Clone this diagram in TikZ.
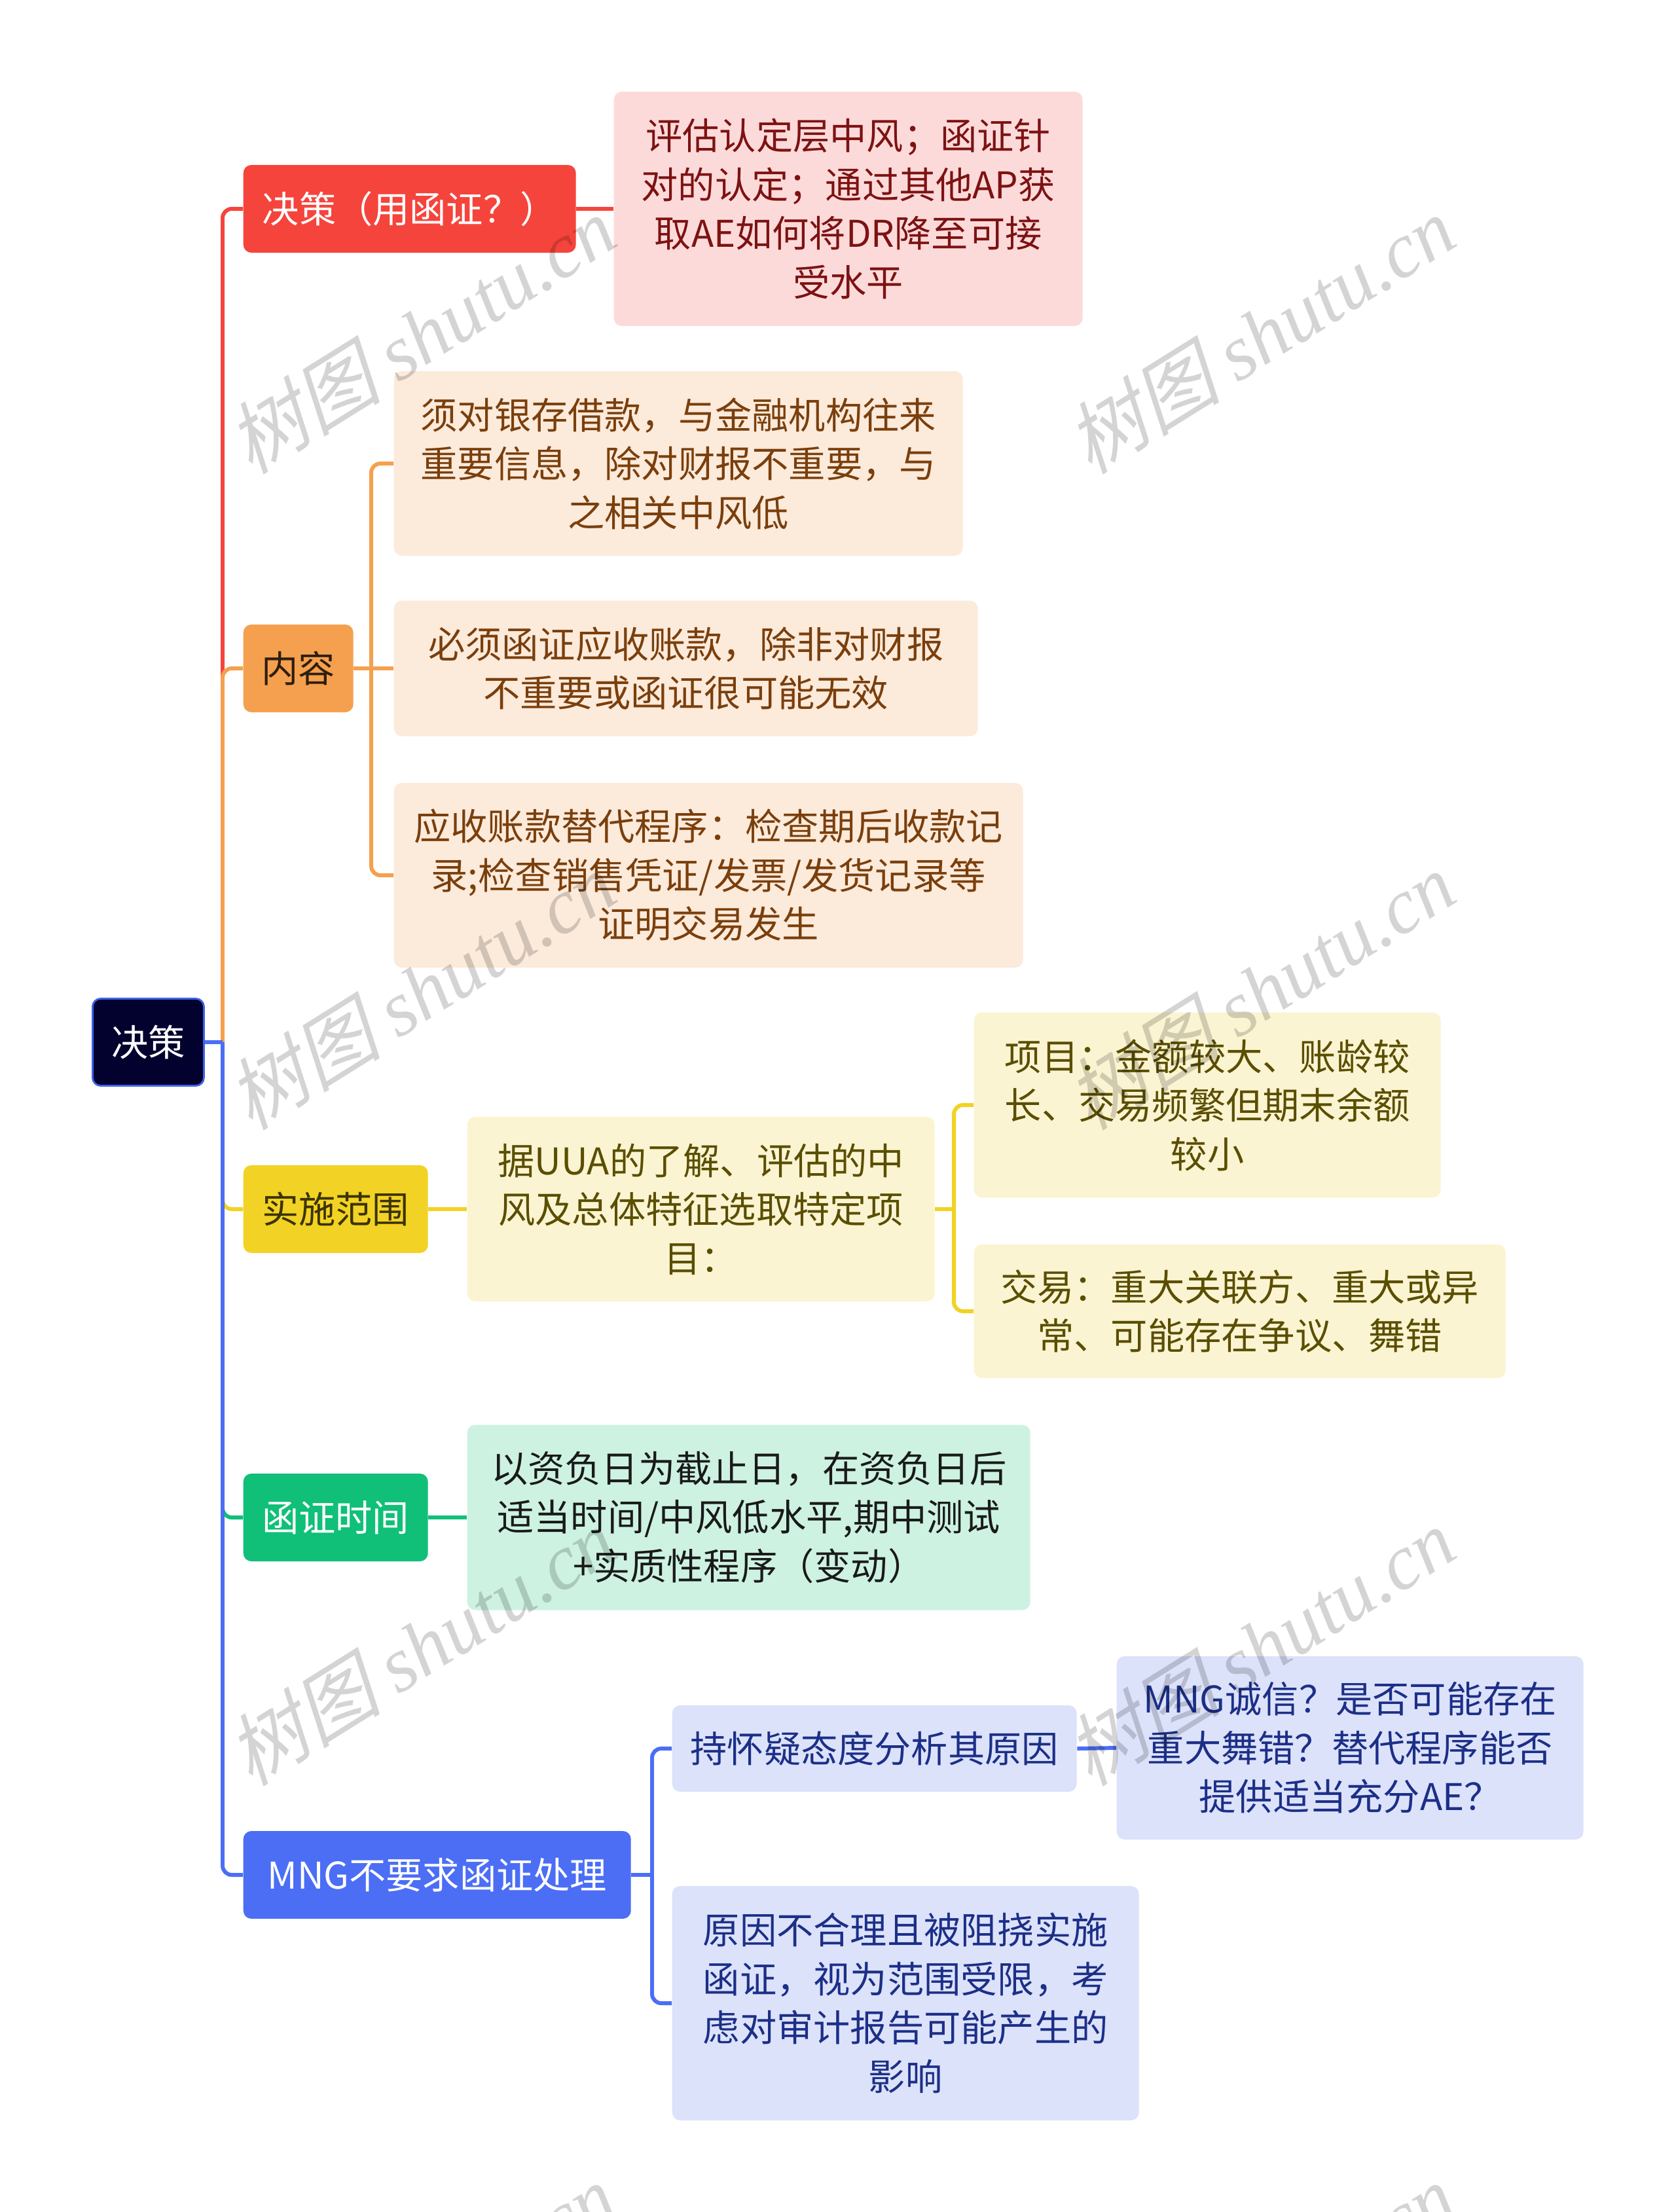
\documentclass[tikz,border=0pt]{standalone}
\usepackage{fontspec}
\setmainfont{Noto Sans CJK SC}
\newfontfamily\wmcjk{Noto Sans CJK SC}[FakeSlant=0.25]
\newfontfamily\wmlatin{Liberation Serif}
\usepackage{tikz}
\definecolor{rootfill}{HTML}{03022F}
\definecolor{rootedge}{HTML}{3F62E8}
\definecolor{redmain}{HTML}{F5443C}
\definecolor{redsub}{HTML}{FDDADA}
\definecolor{redtext}{HTML}{7D1212}
\definecolor{orgmain}{HTML}{F5A04E}
\definecolor{orgsub}{HTML}{FCEADB}
\definecolor{orgtext}{HTML}{7A3F0C}
\definecolor{orgdark}{HTML}{2D1E0E}
\definecolor{ylwmain}{HTML}{F2D224}
\definecolor{ylwsub}{HTML}{FBF4D2}
\definecolor{ylwtext}{HTML}{5A4E00}
\definecolor{ylwdark}{HTML}{3B3300}
\definecolor{grnmain}{HTML}{10BF78}
\definecolor{grnsub}{HTML}{CDF2E2}
\definecolor{grntext}{HTML}{1A1A1A}
\definecolor{blumain}{HTML}{4B6EF5}
\definecolor{blusub}{HTML}{DCE2FA}
\definecolor{blutext}{HTML}{1C2F87}
\tikzset{
  box/.style   = {rounded corners=3.5pt, inner sep=0pt, align=center, anchor=west,
                  font=\fontsize{16}{21.2}\selectfont},
  topbox/.style = {box, minimum height=1.34cm, text=white},
  link/.style  = {line width=1.7pt, rounded corners=4pt},
  wmark/.style = {font=\fontsize{34}{34}\selectfont, text=black, opacity=0.17, rotate=32}
}
\begin{document}
\begin{tikzpicture}
  \clip (0,0) rectangle (25.60,-33.79);
  \fill[white] (0,0) rectangle (25.60,-33.79);

  \node[box, fill=rootfill, draw=rootedge, line width=0.8pt, text=white,
        minimum width=1.70cm, minimum height=1.33cm] (root) at (1.40,-15.92) {决策};

  % main branches
  \node[topbox, fill=redmain, minimum width=5.08cm] (red) at (3.71,-3.19) {决策（用函证？）};
  \node[topbox, fill=orgmain, text=orgdark, minimum width=1.68cm] (org) at (3.71,-10.21) {内容};
  \node[topbox, fill=ylwmain, text=ylwdark, minimum width=2.82cm] (ylw) at (3.71,-18.47) {实施范围};
  \node[topbox, fill=grnmain, minimum width=2.82cm] (grn) at (3.71,-23.18) {函证时间};
  \node[topbox, fill=blumain, minimum width=5.92cm] (blu) at (3.71,-28.64) {MNG不要求函证处理};

  % sub topics
  \node[box, fill=redsub, text=redtext, minimum width=7.16cm, minimum height=3.58cm] (redsub) at (9.37,-3.19)
    {评估认定层中风；函证针\\对的认定；通过其他AP获\\取AE如何将DR降至可接\\受水平};
  \node[box, fill=orgsub, text=orgtext, minimum width=8.69cm, minimum height=2.82cm] (orgA) at (6.01,-7.08)
    {须对银存借款，与金融机构往来\\重要信息，除对财报不重要，与\\之相关中风低};
  \node[box, fill=orgsub, text=orgtext, minimum width=8.92cm, minimum height=2.07cm] (orgB) at (6.01,-10.21)
    {必须函证应收账款，除非对财报\\不重要或函证很可能无效};
  \node[box, fill=orgsub, text=orgtext, minimum width=9.61cm, minimum height=2.82cm] (orgC) at (6.01,-13.37)
    {应收账款替代程序：检查期后收款记\\录;检查销售凭证/发票/发货记录等\\证明交易发生};
  \node[box, fill=ylwsub, text=ylwtext, minimum width=7.14cm, minimum height=2.82cm] (ylwsub) at (7.13,-18.47)
    {据UUA的了解、评估的中\\风及总体特征选取特定项\\目：};
  \node[box, fill=ylwsub, text=ylwtext, minimum width=7.13cm, minimum height=2.83cm] (ylwA) at (14.87,-16.88)
    {项目：金额较大、账龄较\\长、交易频繁但期末余额\\较小};
  \node[box, fill=ylwsub, text=ylwtext, minimum width=8.12cm, minimum height=2.04cm] (ylwB) at (14.87,-20.03)
    {交易：重大关联方、重大或异\\常、可能存在争议、舞错};
  \node[box, fill=grnsub, text=grntext, minimum width=8.60cm, minimum height=2.83cm] (grnsub) at (7.13,-23.18)
    {以资负日为截止日，在资负日后\\适当时间/中风低水平,期中测试\\+实质性程序（变动）};
  \node[box, fill=blusub, text=blutext, minimum width=6.18cm, minimum height=1.32cm] (bluA) at (10.26,-26.71)
    {持怀疑态度分析其原因};
  \node[box, fill=blusub, text=blutext, minimum width=7.13cm, minimum height=2.80cm] (bluAA) at (17.05,-26.70)
    {MNG诚信？是否可能存在\\重大舞错？替代程序能否\\提供适当充分AE？};
  \node[box, fill=blusub, text=blutext, minimum width=7.13cm, minimum height=3.58cm] (bluB) at (10.26,-30.60)
    {原因不合理且被阻挠实施\\函证，视为范围受限，考\\虑对审计报告可能产生的\\影响};

  % connectors
  \coordinate (trunk) at (3.40,-15.92);
  \coordinate (orgfork) at (5.67,-10.21);
  \coordinate (ylwfork) at (14.57,-18.47);
  \coordinate (blufork) at (9.96,-28.64);

  \draw[link, redmain] (trunk) |- (red.west);
  \draw[link, redmain] (red.east) -- (redsub.west);

  \draw[link, orgmain] (trunk) |- (org.west);
  \draw[link, orgmain] (org.east) -- (orgfork);
  \draw[link, orgmain] (orgfork) |- (orgA.west);
  \draw[link, orgmain] (orgfork) -- (orgB.west);
  \draw[link, orgmain] (orgfork) |- (orgC.west);

  \draw[link, ylwmain] (trunk) |- (ylw.west);
  \draw[link, ylwmain] (ylw.east) -- (ylwsub.west);
  \draw[link, ylwmain] (ylwsub.east) -- (ylwfork);
  \draw[link, ylwmain] (ylwfork) |- (ylwA.west);
  \draw[link, ylwmain] (ylwfork) |- (ylwB.west);

  \draw[link, grnmain] (trunk) |- (grn.west);
  \draw[link, grnmain] (grn.east) -- (grnsub.west);

  \draw[link, blumain] (trunk) |- (blu.west);
  \draw[link, blumain] (root.east) -- (trunk);
  \draw[link, blumain] (blu.east) -- (blufork);
  \draw[link, blumain] (blufork) |- (bluA.west);
  \draw[link, blumain] (blufork) |- (bluB.west);
  \draw[link, blumain] (bluA.east) -- (bluAA.west);

  % watermarks
  \foreach \wx/\wy [count=\i] in {6.42/-5.11, 19.24/-5.11, 6.42/-15.13, 19.24/-15.13,
                                   6.42/-25.15, 19.24/-25.15, 6.42/-35.17, 19.24/-35.17}
    \node[wmark] (wm\i) at (\wx,\wy) {{\wmcjk 树图} {\wmlatin\itshape shutu.cn}};
\end{tikzpicture}
\end{document}
